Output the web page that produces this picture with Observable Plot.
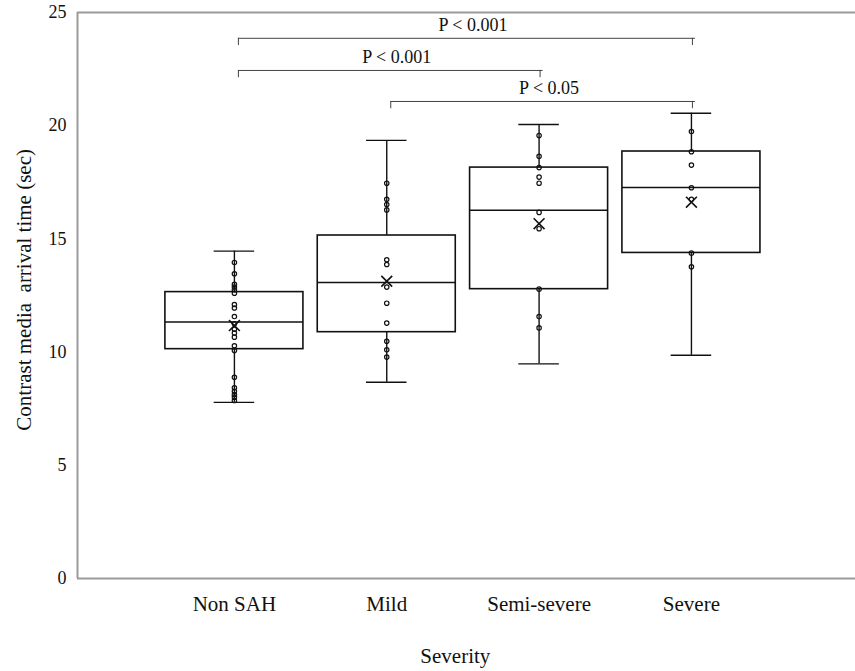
<!DOCTYPE html>
<html>
<head>
<meta charset="utf-8">
<script src="https://cdn.jsdelivr.net/npm/d3@7"></script>
<script src="https://cdn.jsdelivr.net/npm/@observablehq/plot@0.6"></script>
<style>
  html, body { margin: 0; padding: 0; background: #fff; }
  #chart svg { display: block; }
</style>
</head>
<body>
<div id="chart"></div>
<script>
const categories = ["Non SAH", "Mild", "Semi-severe", "Severe"];
const whiskerLow = [7.78, 8.67, 9.48, 9.86];
const q1 = [10.13, 10.88, 12.78, 14.38];
const median = [11.33, 13.07, 16.27, 17.27];
const q3 = [12.65, 15.15, 18.15, 18.86];
const whiskerHigh = [14.46, 19.35, 20.05, 20.55];
const means = [11.17, 13.13, 15.67, 16.62];

const pointsNonSAH = [13.96, 13.46, 12.99, 12.87, 12.75, 12.60, 12.10, 11.95, 11.57, 11.25, 11.01, 10.84, 10.66, 10.28, 10.07, 8.89, 8.42, 8.27, 8.13, 8.01, 7.86];
const pointsMild = [17.46, 16.75, 16.52, 16.28, 14.08, 13.87, 12.87, 12.16, 11.28, 10.48, 10.10, 9.78];
const pointsSemiSevere = [19.57, 18.65, 18.15, 17.73, 17.46, 16.17, 15.45, 12.78, 11.57, 11.07];
const pointsSevere = [19.74, 18.85, 18.26, 17.26, 16.75, 14.37, 13.77];

const yTicks = [0, 5, 10, 15, 20, 25];

const bracketFrom = [1, 1, 2];
const bracketTo = [4, 3, 4];
const bracketLevel = [23.86, 22.44, 21.07];
const bracketLabels = ["P < 0.001", "P < 0.001", "P < 0.05"];

const boxes = categories.map((c, i) => ({
  i: i + 1, cat: c, lo: whiskerLow[i], q1: q1[i], med: median[i], q3: q3[i], hi: whiskerHigh[i], mean: means[i]
}));
const pts = [pointsNonSAH, pointsMild, pointsSemiSevere, pointsSevere]
  .flatMap((arr, k) => arr.map(v => ({i: k + 1, v})));
const brackets = bracketFrom.map((f, k) => ({f, t: bracketTo[k], y: bracketLevel[k], label: bracketLabels[k]}));

const xMin = -0.03, xMax = 5.077;
const half = 0.453, cap = 0.133;
const font = "'Liberation Serif', 'Times New Roman', Times, serif";

const plot = Plot.plot({
  width: 855,
  height: 671,
  marginLeft: 77,
  marginRight: 0,
  marginTop: 12,
  marginBottom: 93,
  style: {fontFamily: font, background: "#fff", color: "#111"},
  x: {type: "linear", domain: [xMin, xMax], axis: null},
  y: {domain: [0, 25], axis: null},
  marks: [
    // frame (top, bottom, left)
    Plot.ruleY([0, 25], {stroke: "#9a9a9a", strokeWidth: 2}),
    Plot.ruleX([xMin], {y1: 0, y2: 25, stroke: "#9a9a9a", strokeWidth: 2}),
    // y tick labels
    Plot.text(yTicks, {x: xMin, y: d => d, text: d => String(d), textAnchor: "end", dx: -11, fontSize: 18, fill: "#111"}),
    // x tick labels
    Plot.text(boxes, {x: "i", y: 0, text: "cat", lineAnchor: "bottom", dy: 32, fontSize: 21, fill: "#111"}),
    // axis titles
    Plot.text(["Severity"], {x: 2.45, y: 0, text: d => d, lineAnchor: "bottom", dy: 84, fontSize: 21, fill: "#111"}),
    Plot.text(["Contrast media\u00a0\u00a0arrival time (sec)"], {x: xMin, y: 12.75, text: d => d, rotate: -90, dx: -53, fontSize: 21, fill: "#111"}),
    // whiskers
    Plot.ruleX(boxes, {x: "i", y1: "lo", y2: "q1", stroke: "#111", strokeWidth: 1.4}),
    Plot.ruleX(boxes, {x: "i", y1: "q3", y2: "hi", stroke: "#111", strokeWidth: 1.4}),
    Plot.ruleY(boxes, {y: "lo", x1: d => d.i - cap, x2: d => d.i + cap, stroke: "#111", strokeWidth: 1.4}),
    Plot.ruleY(boxes, {y: "hi", x1: d => d.i - cap, x2: d => d.i + cap, stroke: "#111", strokeWidth: 1.4}),
    // boxes
    Plot.rect(boxes, {x1: d => d.i - half, x2: d => d.i + half, y1: "q1", y2: "q3", fill: "none", stroke: "#111", strokeWidth: 1.6}),
    Plot.ruleY(boxes, {y: "med", x1: d => d.i - half, x2: d => d.i + half, stroke: "#111", strokeWidth: 1.5}),
    // data points
    Plot.dot(pts, {x: "i", y: "v", r: 2.2, fill: "none", stroke: "#111", strokeWidth: 1.2}),
    // means
    Plot.dot(boxes, {x: "i", y: "mean", symbol: "times", r: 5, stroke: "#111", strokeWidth: 1.6}),
    // significance brackets
    Plot.ruleY(brackets, {y: "y", x1: "f", x2: "t", stroke: "#444", strokeWidth: 1, dx: 4}),
    Plot.ruleX(brackets, {x: "f", y1: "y", y2: d => d.y - 0.32, stroke: "#444", strokeWidth: 1, dx: 4}),
    Plot.ruleX(brackets, {x: "t", y1: "y", y2: d => d.y - 0.32, stroke: "#444", strokeWidth: 1, dx: 1}),
    Plot.text(brackets, {x: d => (d.f + d.t) / 2, y: "y", text: "label", lineAnchor: "bottom", dy: -7, dx: 10, fontSize: 18, fill: "#111"})
  ]
});
document.getElementById("chart").append(plot);
</script>
</body>
</html>
